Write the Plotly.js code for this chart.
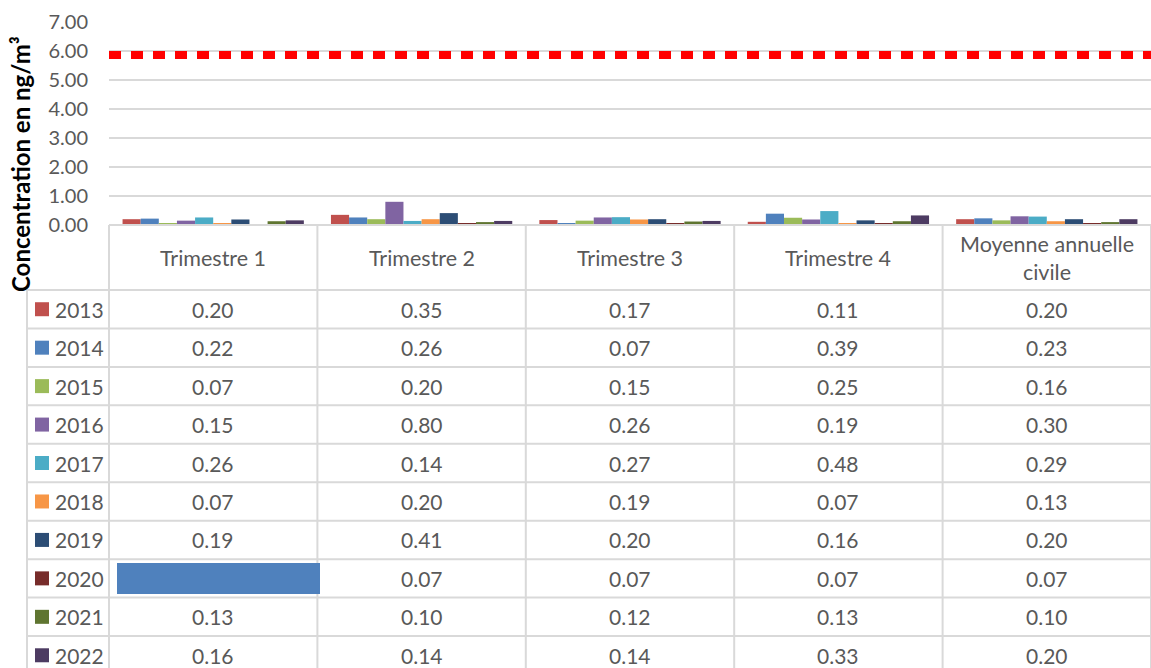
<!DOCTYPE html>
<html>
<head>
<meta charset="utf-8">
<script src="https://cdn.plot.ly/plotly-3.0.1.min.js"></script>
<style>
html,body{margin:0;padding:0;background:#fff;}
#chart{width:1151px;height:668px;}
</style>
</head>
<body>
<div id="chart"></div>
<script>
// ---- data ----
const categories = ['Trimestre 1', 'Trimestre 2', 'Trimestre 3', 'Trimestre 4', 'Moyenne annuelle<br>civile'];
const years = ['2013', '2014', '2015', '2016', '2017', '2018', '2019', '2020', '2021', '2022'];
const v2013 = [0.20, 0.35, 0.17, 0.11, 0.20];
const v2014 = [0.22, 0.26, 0.07, 0.39, 0.23];
const v2015 = [0.07, 0.20, 0.15, 0.25, 0.16];
const v2016 = [0.15, 0.80, 0.26, 0.19, 0.30];
const v2017 = [0.26, 0.14, 0.27, 0.48, 0.29];
const v2018 = [0.07, 0.20, 0.19, 0.07, 0.13];
const v2019 = [0.19, 0.41, 0.20, 0.16, 0.20];
const v2020 = [null, 0.07, 0.07, 0.07, 0.07];
const v2021 = [0.13, 0.10, 0.12, 0.13, 0.10];
const v2022 = [0.16, 0.14, 0.14, 0.33, 0.20];
const targetValue = 5.86;
const yTicks = [0, 1, 2, 3, 4, 5, 6, 7];

const series = [v2013, v2014, v2015, v2016, v2017, v2018, v2019, v2020, v2021, v2022];
const colors = ['#C0504D', '#4F81BD', '#9BBB59', '#8064A2', '#4BACC6', '#F79646', '#2C4D75', '#772C2A', '#5F7530', '#4D3B62'];

// ---- geometry helpers (pixels -> paper) ----
const W = 1151, H = 668, ML = 109, MT = 22, MB = 0, MR = 0;
const PW = W - ML - MR, PH = H - MT - MB;
const px = p => (p - ML) / PW;
const py = p => (H - MB - p) / PH;
const axisBottomPx = 225;
const headerBottomPx = 290;
const rowH = 38.45;
const legendLeftPx = 27;
const gridColor = '#D9D9D9';
const textColor = '#595959';
const FONT = 'Lato, "Open Sans", sans-serif';

const traces = series.map((vals, i) => ({
  type: 'bar',
  name: years[i],
  x: categories,
  y: vals,
  marker: {color: colors[i], line: {width: 0}},
  hoverinfo: 'skip'
}));

const shapes = [];
const annotations = [];

// target dashed line
shapes.push({type: 'line', xref: 'paper', yref: 'y', x0: 0, x1: 1, y0: targetValue, y1: targetValue,
  line: {color: '#FF0000', width: 8, dash: '12px,10px'}, layer: 'above'});

// table horizontal lines
const tableBottomPx = headerBottomPx + rowH * years.length;
shapes.push({type: 'line', xref: 'paper', yref: 'paper', x0: 0, x1: 1, y0: py(axisBottomPx), y1: py(axisBottomPx), line: {color: gridColor, width: 2}});
for (let r = 0; r <= years.length; r++) {
  const yp = py(headerBottomPx + rowH * r);
  shapes.push({type: 'line', xref: 'paper', yref: 'paper', x0: px(legendLeftPx), x1: 1, y0: yp, y1: yp, line: {color: gridColor, width: 2}});
}
// vertical lines
shapes.push({type: 'line', xref: 'paper', yref: 'paper', x0: px(legendLeftPx), x1: px(legendLeftPx), y0: py(headerBottomPx), y1: py(tableBottomPx), line: {color: gridColor, width: 2}});
for (let c = 0; c <= categories.length; c++) {
  const xp = c / categories.length;
  shapes.push({type: 'line', xref: 'paper', yref: 'paper', x0: xp, x1: xp, y0: py(axisBottomPx), y1: py(tableBottomPx), line: {color: gridColor, width: 2}});
}

// header labels
categories.forEach((cat, c) => {
  annotations.push({xref: 'paper', yref: 'paper', x: (c + 0.5) / categories.length, y: py((axisBottomPx + headerBottomPx) / 2),
    text: cat, showarrow: false, xanchor: 'center', yanchor: 'middle', align: 'center',
    font: {family: FONT, size: 21.5, color: textColor}});
});

// rows
years.forEach((yr, r) => {
  const cy = headerBottomPx + rowH * (r + 0.5);
  shapes.push({type: 'rect', xref: 'paper', yref: 'paper', x0: px(35), x1: px(49), y0: py(cy - 7), y1: py(cy + 7),
    fillcolor: colors[r], line: {width: 0}});
  annotations.push({xref: 'paper', yref: 'paper', x: px(53), y: py(cy), text: yr, showarrow: false,
    xanchor: 'left', yanchor: 'middle', font: {family: FONT, size: 21, color: textColor}});
  series[r].forEach((v, c) => {
    if (v === null) return;
    annotations.push({xref: 'paper', yref: 'paper', x: (c + 0.5) / categories.length, y: py(cy),
      text: v.toFixed(2), showarrow: false, xanchor: 'center', yanchor: 'middle',
      font: {family: FONT, size: 21, color: textColor}});
  });
});

// highlight block over the empty 2020 / Trimestre 1 cell
const r2020 = years.indexOf('2020');
const cy2020 = headerBottomPx + rowH * (r2020 + 0.5);
shapes.push({type: 'rect', xref: 'paper', yref: 'paper', x0: px(117), x1: px(320), y0: py(cy2020 - 15.5), y1: py(cy2020 + 15.5),
  fillcolor: '#4F81BD', line: {width: 0}, layer: 'above'});

// y axis title
annotations.push({xref: 'paper', yref: 'paper', x: px(20), y: py(164), text: 'Concentration en ng/m³',
  textangle: -90, showarrow: false, xanchor: 'center', yanchor: 'middle',
  font: {family: FONT, size: 24, color: '#000000', weight: 'bold'}});

const layout = {
  width: W, height: H,
  margin: {l: ML, r: MR, t: MT, b: MB, pad: 0},
  paper_bgcolor: '#ffffff', plot_bgcolor: '#ffffff',
  barmode: 'group', bargap: 0.13, bargroupgap: 0,
  showlegend: false,
  font: {family: FONT, color: textColor},
  xaxis: {type: 'category', showticklabels: false, showgrid: false, zeroline: false, showline: false, ticks: '', fixedrange: true},
  yaxis: {domain: [py(axisBottomPx), 1], range: [0, 7], tickvals: yTicks, tickformat: '.2f',
    showgrid: true, gridcolor: gridColor, gridwidth: 2, zeroline: false, showline: false,
    ticks: '', ticklabelstandoff: 20, tickfont: {family: FONT, size: 20, color: textColor}},
  shapes: shapes,
  annotations: annotations
};

Plotly.newPlot('chart', traces, layout, {staticPlot: true, displayModeBar: false});
</script>
</body>
</html>
